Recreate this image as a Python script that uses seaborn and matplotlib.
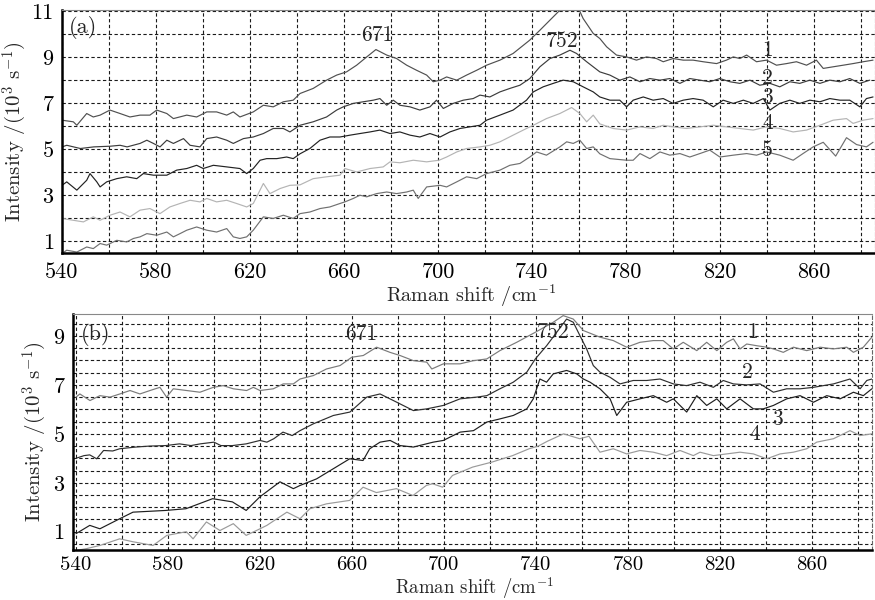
import matplotlib
matplotlib.use("Agg")
import matplotlib.pyplot as plt
from matplotlib.ticker import MultipleLocator, FuncFormatter
import seaborn as sns

# ---- panel (a): five spectra ----
a1_x = [540, 544.8, 546.3, 550.5, 553.3, 556.2, 560.4, 564.7, 568.9, 573.2, 577.4, 580.3, 584.6, 587.4,
        593.1, 597.3, 601.6, 605.8, 610.1, 612.9, 615.7, 621.4, 625.7, 629.9, 634.2, 638.4, 641.3, 646.9,
        652.6, 656.9, 661.1, 665.4, 669.7, 673.6, 678.2, 682.4, 686.7, 690.9, 695.2, 698.0, 700.9, 703.7,
        708.0, 712.2, 716.5, 720.7, 726.4, 732.0, 739.1, 743.4, 747.7, 751.9, 754.8, 759.0, 761.8, 766.1,
        768.9, 771.8, 776.0, 780.3, 784.5, 788.8, 793.0, 795.9, 800.1, 804.4, 808.6, 812.9, 818.6, 822.8,
        825.7, 828.5, 831.4, 835.6, 839.9, 844.1, 848.4, 852.6, 856.9, 861.1, 864.0, 868.2, 872.5, 876.7,
        881.0, 885.2]
a1_y = [6.26, 6.19, 6.04, 6.55, 6.40, 6.48, 6.70, 6.55, 6.40, 6.48, 6.48, 6.70, 6.55, 6.33,
        6.48, 6.40, 6.62, 6.62, 6.48, 6.62, 6.40, 6.62, 6.91, 6.84, 7.06, 7.13, 7.42, 7.64,
        8.00, 8.22, 8.36, 8.65, 9.01, 9.33, 9.09, 8.94, 8.65, 8.43, 8.22, 7.93, 8.00, 8.14,
        8.00, 8.22, 8.43, 8.65, 8.87, 9.16, 9.74, 10.17, 10.61, 11.04, 11.30, 11.30, 10.68, 10.03,
        9.81, 9.45, 9.09, 9.01, 8.87, 9.01, 8.94, 8.80, 8.94, 8.87, 8.87, 8.80, 8.72, 8.87,
        9.01, 8.94, 9.09, 8.80, 8.87, 8.65, 8.72, 8.80, 8.65, 8.87, 8.51, 8.58, 8.65, 8.72,
        8.80, 8.87]

a2_x = [540, 542, 547.8, 553.5, 560.6, 564.7, 567.7, 573.2, 576.1, 578.9, 581.7, 584.6, 587.4, 591.7,
        594.5, 598.7, 601.6, 605.8, 610.1, 612.9, 617.2, 621.4, 625.7, 629.9, 634.2, 637.0, 641.3, 646.9,
        652.6, 656.9, 659.7, 664.0, 668.2, 672.5, 675.3, 678.2, 681.0, 683.8, 688.1, 692.3, 696.6, 699.4,
        702.3, 706.5, 710.8, 715.0, 717.9, 722.1, 726.4, 730.6, 734.9, 739.1, 743.4, 747.7, 751.9, 756.2,
        759.0, 763.3, 768.9, 773.2, 777.4, 781.7, 786.0, 790.2, 794.5, 798.7, 803.0, 807.2, 811.5, 815.7,
        820.0, 824.3, 828.5, 832.8, 837.0, 841.3, 845.5, 849.8, 854.0, 858.3, 862.6, 866.8, 871.1, 875.3,
        879.6, 883.8]
a2_y = [5.10, 5.17, 5.03, 5.10, 5.13, 5.17, 5.10, 5.25, 5.39, 5.25, 5.10, 5.39, 5.25, 5.46,
        5.17, 5.10, 5.46, 5.53, 5.39, 5.25, 5.46, 5.53, 5.68, 5.90, 5.90, 5.75, 6.04, 6.19,
        6.40, 6.70, 6.84, 6.99, 7.06, 7.13, 7.20, 6.91, 7.13, 6.91, 6.84, 6.70, 6.84, 7.13,
        6.77, 6.99, 7.13, 7.20, 7.35, 7.27, 7.49, 7.64, 7.78, 8.07, 8.58, 8.94, 9.09, 9.30,
        9.16, 8.80, 8.36, 8.22, 8.00, 8.14, 7.93, 8.07, 8.00, 8.07, 7.86, 8.07, 8.00, 7.93,
        8.07, 7.93, 7.86, 8.00, 7.78, 7.86, 7.71, 7.93, 7.86, 8.00, 7.86, 8.00, 7.93, 8.07,
        7.86, 8.00]

a3_x = [540, 542, 546.3, 550.5, 551.9, 554.8, 556.2, 559.0, 563.3, 567.5, 571.8, 574.6, 578.9, 584.6,
        588.8, 593.1, 597.3, 600.1, 604.4, 610.1, 615.7, 618.6, 621.4, 624.3, 627.1, 631.4, 635.6, 638.4,
        641.3, 645.5, 649.8, 654.0, 658.3, 662.6, 666.8, 671.1, 675.3, 679.6, 683.8, 688.1, 692.3, 696.6,
        700.9, 705.1, 709.4, 713.6, 717.9, 720.7, 726.4, 732.0, 737.7, 740.6, 744.8, 749.1, 753.3, 757.6,
        761.8, 766.1, 768.9, 773.2, 777.4, 780.3, 783.1, 787.4, 791.6, 795.9, 800.1, 804.4, 808.6, 812.9,
        817.2, 821.4, 825.7, 830.0, 834.2, 838.5, 841.3, 845.5, 849.8, 854.0, 858.3, 862.6, 866.8, 871.1,
        875.3, 879.6, 882.4, 885.2]
a3_y = [3.43, 3.58, 3.22, 3.65, 3.94, 3.58, 3.36, 3.58, 3.72, 3.80, 3.72, 3.94, 3.87, 3.87,
        4.09, 4.16, 4.30, 4.16, 4.30, 4.23, 4.16, 3.94, 4.16, 4.52, 4.59, 4.59, 4.66, 4.59,
        4.80, 5.03, 5.39, 5.53, 5.53, 5.61, 5.68, 5.75, 5.83, 5.68, 5.75, 5.61, 5.53, 5.68,
        5.53, 5.75, 5.90, 5.97, 6.04, 6.26, 6.48, 6.70, 7.13, 7.49, 7.71, 7.86, 8.00, 7.93,
        7.71, 7.49, 7.27, 7.13, 7.13, 6.84, 7.13, 7.27, 7.13, 7.20, 6.99, 7.13, 7.20, 7.13,
        6.84, 7.13, 6.99, 7.13, 6.99, 7.20, 6.70, 6.99, 7.13, 6.99, 7.13, 7.06, 7.20, 7.13,
        7.13, 6.84, 7.20, 7.27]

a4_x = [540, 544.8, 549.1, 553.3, 556.2, 560.4, 564.7, 568.9, 573.2, 577.4, 581.7, 585.9, 590.2, 594.5,
        598.7, 601.6, 605.8, 610.1, 614.3, 618.6, 621.4, 625.7, 628.5, 632.8, 637.0, 641.3, 646.9, 652.6,
        658.3, 660.4, 665.4, 671.1, 676.7, 679.6, 683.8, 689.5, 695.2, 700.5, 703.7, 708.0, 712.2, 717.9,
        722.1, 726.4, 732.0, 737.7, 740.6, 746.2, 751.9, 756.9, 760.4, 763.3, 766.1, 768.9, 774.6, 780.3,
        786.0, 791.6, 795.9, 800.1, 805.8, 811.5, 817.2, 822.8, 828.5, 834.2, 839.9, 845.5, 851.2, 856.9,
        862.6, 868.2, 873.9, 876.7, 881.0, 885.2]
a4_y = [1.99, 1.91, 1.84, 2.06, 1.91, 2.13, 2.27, 2.06, 2.35, 2.42, 2.20, 2.49, 2.64, 2.78,
        2.71, 2.86, 2.71, 2.78, 2.64, 2.49, 2.64, 3.51, 3.07, 3.29, 3.43, 3.45, 3.72, 3.80,
        3.87, 4.16, 4.01, 4.16, 4.23, 4.45, 4.41, 4.52, 4.45, 4.52, 4.66, 4.88, 5.03, 5.10,
        5.17, 5.32, 5.61, 5.90, 6.04, 6.33, 6.55, 6.81, 6.55, 6.19, 6.48, 6.10, 5.90, 5.83,
        5.97, 5.90, 6.04, 5.97, 5.90, 5.97, 6.04, 5.97, 5.90, 5.83, 5.97, 5.90, 5.75, 5.83,
        6.04, 6.26, 6.33, 6.12, 6.26, 6.33]

a5_x = [540, 542, 546.3, 550.5, 553.3, 556.2, 559.0, 563.3, 567.5, 570.4, 573.2, 576.1, 580.3, 584.6,
        587.4, 590.2, 593.1, 597.3, 601.6, 605.8, 610.1, 612.9, 615.7, 618.6, 621.4, 625.7, 629.9, 634.2,
        638.4, 641.3, 645.5, 649.8, 654.0, 658.3, 660.4, 664.0, 666.8, 669.7, 673.9, 678.2, 682.4, 686.7,
        689.5, 691.6, 695.2, 700.9, 703.7, 708.0, 712.2, 716.5, 720.7, 726.4, 730.6, 734.9, 739.1, 742.0,
        746.2, 751.9, 754.8, 757.6, 760.4, 763.3, 766.1, 768.9, 773.2, 780.3, 783.1, 786.0, 790.2, 794.5,
        798.7, 803.0, 807.2, 811.5, 815.7, 820.0, 825.7, 831.4, 835.6, 839.9, 845.5, 851.2, 855.4, 859.7,
        864.0, 869.3, 873.9, 878.2, 882.4, 885.2]
a5_y = [0.47, 0.61, 0.53, 0.75, 0.68, 0.90, 0.83, 1.04, 0.97, 1.12, 1.19, 1.33, 1.26, 1.40,
        1.19, 1.33, 1.48, 1.62, 1.48, 1.40, 1.55, 1.19, 1.12, 1.19, 1.48, 2.06, 1.99, 2.13,
        1.99, 2.20, 2.27, 2.42, 2.49, 2.64, 2.71, 2.86, 3.00, 2.93, 3.07, 3.14, 3.07, 3.14,
        3.22, 2.86, 3.36, 3.43, 3.36, 3.58, 3.80, 3.72, 3.94, 4.09, 4.30, 4.38, 4.66, 4.88,
        4.74, 5.10, 5.32, 5.25, 5.39, 5.03, 5.10, 4.80, 4.59, 4.52, 4.52, 4.81, 4.59, 4.88,
        4.74, 4.81, 4.66, 4.81, 4.96, 4.66, 4.74, 4.81, 4.74, 4.88, 4.74, 4.52, 4.81, 5.10,
        5.30, 4.70, 5.50, 5.20, 5.10, 5.30]

# ---- panel (b): four spectra ----
b1_x = [540, 541.7, 546.1, 550.4, 554.8, 559.1, 563.5, 567.8, 572.2, 576.5, 579.4, 582.3, 588.1, 593.9,
        599.7, 604.0, 608.4, 614.2, 617.1, 620.0, 625.8, 630.1, 634.5, 637.4, 643.2, 648.9, 654.8, 659.9,
        664.9, 670.7, 676.5, 680.9, 686.7, 692.5, 694.7, 699.7, 707.0, 712.8, 718.6, 724.3, 731.6, 739.7,
        747.5, 751.8, 756.2, 760.6, 767.8, 773.6, 779.4, 785.2, 791.0, 795.3, 799.7, 804.0, 809.9, 814.2,
        818.6, 822.9, 825.8, 828.7, 831.6, 836.0, 840.3, 843.2, 847.5, 851.9, 857.7, 863.5, 869.3, 875.1,
        878.0, 882.3, 886.0]
b1_y = [6.50, 6.63, 6.36, 6.56, 6.50, 6.63, 6.77, 6.63, 6.77, 6.90, 6.50, 6.84, 6.77, 6.70,
        6.90, 6.97, 6.84, 6.77, 6.90, 6.77, 6.84, 7.04, 7.04, 7.24, 7.38, 7.65, 7.79, 8.13,
        8.20, 8.54, 8.33, 8.20, 7.99, 7.93, 7.65, 7.86, 7.86, 7.99, 8.06, 8.40, 8.74, 9.15,
        9.56, 9.83, 9.69, 9.22, 8.95, 8.81, 8.54, 8.74, 8.81, 8.81, 8.47, 8.74, 8.40, 8.74,
        8.40, 8.74, 8.88, 8.47, 8.67, 8.60, 8.54, 8.47, 8.33, 8.54, 8.40, 8.54, 8.47, 8.54,
        8.33, 8.54, 8.95]

b2_x = [540, 543.5, 546, 549, 552, 556, 559, 566, 572, 579, 585, 590, 594, 600, 603, 608, 614, 620,
        623, 626, 630, 634, 637.4, 643.2, 651.9, 659.1, 666.4, 672.2, 678.0, 686.7, 692.5, 699.7, 707.0,
        714.2, 718.6, 724.3, 730.1, 736.0, 739.7, 744.6, 749.0, 753.3, 756.2, 759.1, 762.0, 764.9, 767.8,
        772.2, 776.5, 782.3, 788.1, 793.9, 799.7, 805.5, 811.3, 817.1, 821.4, 825.8, 831.6, 837.4, 843.2,
        849.0, 854.8, 860.6, 869.3, 876.5, 880.9, 883.8, 886.0]
b2_y = [4.00, 4.11, 4.14, 3.98, 4.32, 4.30, 4.39, 4.46, 4.50, 4.52, 4.59, 4.52, 4.59, 4.66, 4.52, 4.52,
        4.59, 4.73, 4.66, 4.80, 5.07, 4.93, 5.13, 5.41, 5.75, 5.89, 6.50, 6.63, 6.36, 5.95, 6.02, 6.16,
        6.43, 6.50, 6.56, 6.84, 7.11, 7.52, 8.06, 8.60, 9.15, 9.69, 9.56, 9.01, 8.47, 7.79, 7.52,
        7.31, 7.04, 7.18, 7.18, 7.24, 7.04, 6.97, 7.11, 6.90, 7.18, 7.04, 7.00, 7.04, 6.70,
        6.84, 6.84, 6.90, 7.04, 7.24, 6.84, 7.18, 7.24]

b3_x = [540, 546, 550.4, 559, 564.8, 579, 587.8, 599.4, 608, 614, 620, 628.7, 634.5, 637.4, 644.6, 651.8,
        659, 664.8, 667.7, 672.2, 676.6, 680.9, 686.7, 695.3, 699.7, 707, 712.8, 718.6, 724.3, 730.1,
        736, 738.8, 741.7, 744.6, 747.5, 753.3, 757.7, 760.6, 763.5, 767.8, 772.2, 775.1, 779.4, 785.2,
        791, 796.8, 799.7, 802.6, 805.5, 809.9, 814.2, 818.6, 822.9, 828.7, 834.5, 838.8, 843.2, 849,
        854.8, 860.6, 866.4, 872.2, 878, 882.3, 886]
b3_y = [0.92, 1.26, 1.12, 1.53, 1.80, 1.87, 1.94, 2.35, 2.22, 1.87, 2.43, 3.04, 2.76, 2.89, 3.16, 3.57,
        3.98, 3.91, 4.39, 4.66, 4.73, 4.52, 4.46, 4.66, 4.73, 5.07, 5.13, 5.48, 5.61, 5.75,
        6.02, 6.43, 7.24, 7.11, 7.45, 7.59, 7.45, 7.24, 7.11, 6.84, 6.43, 5.75, 6.29, 6.43,
        6.56, 6.29, 6.43, 6.16, 5.89, 6.56, 6.16, 6.43, 6.02, 6.43, 6.02, 6.02, 6.16, 6.43,
        6.56, 6.29, 6.56, 6.43, 6.70, 6.56, 6.84]

b4_x = [541, 544.6, 550.4, 559, 564.8, 573.5, 579.5, 588, 590.9, 596.7, 602.6, 608.4, 614, 620, 623,
        631.7, 637.4, 641.7, 648.9, 659, 664.8, 670.6, 679.3, 686.5, 692.3, 695, 699.4, 703.7, 712.4,
        721, 729.8, 737, 741, 745, 752, 759, 763, 767.8, 773.6, 779.4, 785.2, 791, 796.8, 802.6, 808.4,
        811.3, 817.1, 822.9, 828.7, 834.5, 840.3, 846.1, 851.9, 857.7, 862, 869.3, 876.5, 880.9, 886]
b4_y = [0.25, 0.31, 0.44, 0.71, 0.59, 0.44, 0.85, 1.00, 0.71, 1.40, 1.05, 1.33, 0.85, 1.12, 1.26,
        1.80, 1.53, 1.94, 2.14, 2.28, 2.82, 2.60, 2.76, 2.48, 2.89, 2.96, 2.82, 3.30, 3.64,
        3.85, 4.11, 4.39, 4.50, 4.70, 5.00, 4.80, 4.90, 4.25, 4.39, 4.18, 4.32, 4.25, 4.11, 4.32, 4.11,
        4.25, 4.11, 4.18, 4.25, 4.18, 3.98, 4.18, 4.25, 4.39, 4.66, 4.80, 5.13, 4.93, 5.00]

a_colors = ["#505050", "#3c3c3c", "#222222", "#b4b4b4", "#707070"]
b_colors = ["#7a7a7a", "#2e2e2e", "#1e1e1e", "#9a9a9a"]

sns.set_style("white")
plt.rcParams["font.family"] = ["cmr10", "DejaVu Serif"]
plt.rcParams["mathtext.fontset"] = "cm"
plt.rcParams["axes.formatter.use_mathtext"] = True
plt.rcParams["axes.unicode_minus"] = False

fig = plt.figure(figsize=(8.75, 6), dpi=100)
ax_a = fig.add_axes([0.0709, 0.578, 0.929, 0.405])
ax_b = fig.add_axes([0.0834, 0.0840, 0.913, 0.392])

for xs, ys, c in zip([a1_x, a2_x, a3_x, a4_x, a5_x], [a1_y, a2_y, a3_y, a4_y, a5_y], a_colors):
    sns.lineplot(x=xs, y=ys, ax=ax_a, color=c, lw=0.85, estimator=None)
for xs, ys, c in zip([b1_x, b2_x, b3_x, b4_x], [b1_y, b2_y, b3_y, b4_y], b_colors):
    sns.lineplot(x=xs, y=ys, ax=ax_b, color=c, lw=0.85, estimator=None)


def xfmt(v, pos):
    return f"{v:.0f}" if round(v - 540) % 40 == 0 else ""


def yfmt(v, pos):
    r = round(v)
    return f"{r}" if abs(v - r) < 1e-6 and r % 2 == 1 else ""


def style(ax, xlim, ylim, ystep, ylab_x, xlab_y, xpad, xsize, xlabsize):
    ax.set_xlim(*xlim)
    ax.set_ylim(*ylim)
    ax.xaxis.set_major_locator(MultipleLocator(20))
    ax.xaxis.set_minor_locator(MultipleLocator(5))
    ax.xaxis.set_major_formatter(FuncFormatter(xfmt))
    ax.yaxis.set_major_locator(MultipleLocator(ystep))
    ax.yaxis.set_minor_locator(MultipleLocator(0.25))
    ax.yaxis.set_major_formatter(FuncFormatter(yfmt))
    ax.grid(True, which="major", color="#1a1a1a", ls=(0, (3, 2.2)), lw=0.8)
    ax.set_axisbelow(True)
    ax.tick_params(axis="both", which="major", direction="out", length=4, width=1,
                   labelsize=16, pad=2, colors="black")
    ax.tick_params(axis="both", which="minor", direction="out", length=2.5, width=0.8)
    ax.tick_params(axis="x", which="major", pad=xpad, labelsize=xsize)
    for s in ["left", "bottom"]:
        ax.spines[s].set_linewidth(1.8)
        ax.spines[s].set_color("black")
    ax.spines["top"].set_linewidth(0.8)
    ax.spines["top"].set_color("#888888")
    ax.spines["right"].set_linewidth(0.8)
    ax.spines["right"].set_color("#666666")
    ax.spines["right"].set_linestyle((0, (3, 2.2)))
    ax.set_xlabel(r"Raman shift /cm$^{-1}$", fontsize=xlabsize)
    ax.set_ylabel(r"Intensity /(10$^3$ s$^{-1}$)", fontsize=15)
    ax.yaxis.set_label_coords(ylab_x, 0.5)
    ax.xaxis.set_label_coords(0.503, xlab_y)


style(ax_a, (540, 886), (0.48, 11.04), 1, -0.041, -0.12, 3, 16, 14.5)
style(ax_b, (538.7, 886), (0.27, 9.88), 0.5, -0.030, -0.106, 0.5, 15, 13.5)

ax_a.text(0.008, 0.975, "(a)", transform=ax_a.transAxes, fontsize=16, va="top", ha="left")
ax_b.text(0.010, 0.965, "(b)", transform=ax_b.transAxes, fontsize=16, va="top", ha="left")

# peak labels and curve numbers
ax_a.text(674, 9.96, "671", fontsize=15.5, ha="center", va="center")
ax_a.text(752.8, 9.7, "752", fontsize=15.5, ha="center", va="center")
for lab, yy in zip(["1", "2", "3", "4", "5"], [9.3, 8.1, 7.26, 6.13, 4.96]):
    ax_a.text(840.3, yy, lab, fontsize=15.5, ha="center", va="center")

ax_b.text(664.2, 9.05, "671", fontsize=15.5, ha="center", va="center")
ax_b.text(747.5, 9.15, "752", fontsize=15.5, ha="center", va="center")
for lab, xx, yy in zip(["1", "2", "3", "4"], [833.9, 831.7, 844.8, 835.2], [9.15, 7.52, 5.6, 5.0]):
    ax_b.text(xx, yy, lab, fontsize=15.5, ha="center", va="center")

fig.savefig("out.png", dpi=100, facecolor="white")
